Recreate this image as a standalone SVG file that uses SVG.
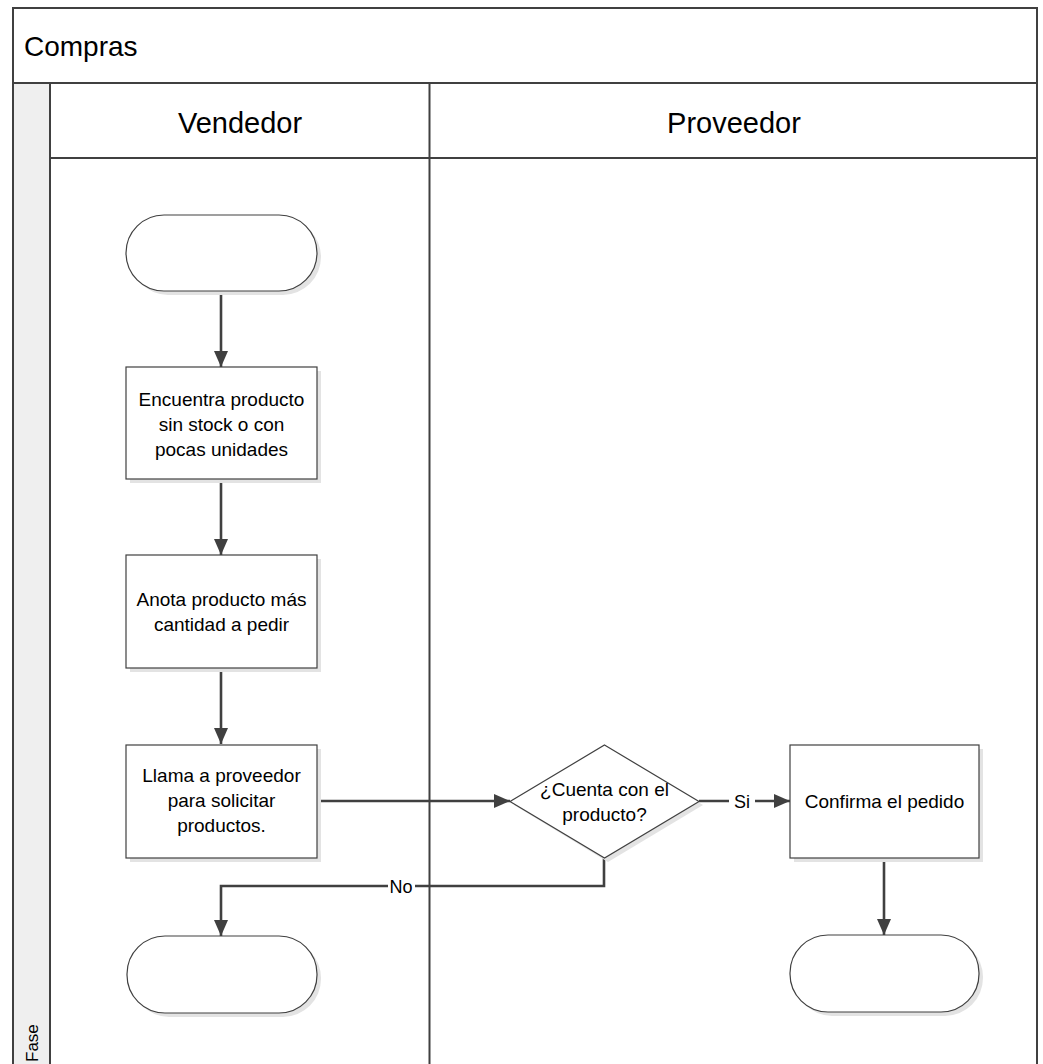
<svg xmlns="http://www.w3.org/2000/svg" width="1043" height="1064" viewBox="0 0 1043 1064">
  <defs>
    <style>
      .frame { fill: none; stroke: #404040; stroke-width: 2; }
      .shape { fill: #ffffff; stroke: #404040; stroke-width: 1.2; }
      .shadow { fill: #e3e3e3; stroke: none; }
      .txt { font-family: "Liberation Sans", Arial, sans-serif; font-size: 19px; fill: #000000; text-anchor: middle; }
      .lane { font-family: "Liberation Sans", Arial, sans-serif; font-size: 29px; fill: #000000; text-anchor: middle; }
      .edge { fill: none; stroke: #404040; stroke-width: 2.6; }
      .lbl { font-family: "Liberation Sans", Arial, sans-serif; font-size: 18px; fill: #000000; text-anchor: middle; }
    </style>
    <marker id="arrow" viewBox="0 0 16 14" refX="16" refY="7" markerWidth="16" markerHeight="14" markerUnits="userSpaceOnUse" orient="auto">
      <path d="M0,0 L16,7 L0,14 z" fill="#404040"/>
    </marker>
  </defs>

  <rect x="0" y="0" width="1043" height="1064" fill="#ffffff"/>

  <!-- Pool and lanes -->
  <g id="pool">
    <rect x="13" y="84" width="37" height="990" fill="#efefef"/>
    <path class="frame" d="M13,1064 V8 H1037 V1064"/>
    <line class="frame" x1="13" y1="83" x2="1037" y2="83"/>
    <line class="frame" x1="50" y1="83" x2="50" y2="1064"/>
    <line class="frame" x1="50" y1="158" x2="1037" y2="158"/>
    <line class="frame" x1="429.5" y1="83" x2="429.5" y2="1064"/>
    <text x="24" y="56" font-family="Liberation Sans, Arial, sans-serif" font-size="28" fill="#000000">Compras</text>
    <text class="lane" x="240" y="133">Vendedor</text>
    <text class="lane" x="734" y="133">Proveedor</text>
    <text x="38" y="1062" transform="rotate(-90 38 1062)" font-family="Liberation Sans, Arial, sans-serif" font-size="17" fill="#000000">Fase</text>
  </g>

  <!-- Connectors -->
  <g id="connectors">
    <line class="edge" x1="221" y1="291" x2="221" y2="367" marker-end="url(#arrow)"/>
    <line class="edge" x1="221" y1="479" x2="221" y2="555" marker-end="url(#arrow)"/>
    <line class="edge" x1="221" y1="668" x2="221" y2="744" marker-end="url(#arrow)"/>
    <line class="edge" x1="317" y1="801" x2="510" y2="801" marker-end="url(#arrow)"/>
    <line class="edge" x1="699" y1="801" x2="790" y2="801" marker-end="url(#arrow)"/>
    <path class="edge" d="M604,858 V886 H221 V936" marker-end="url(#arrow)"/>
    <line class="edge" x1="884" y1="858" x2="884" y2="935" marker-end="url(#arrow)"/>
    <rect x="729" y="790" width="26" height="22" fill="#ffffff"/>
    <text class="lbl" x="742" y="808">Si</text>
    <rect x="388" y="875" width="27" height="22" fill="#ffffff"/>
    <text class="lbl" x="401" y="893">No</text>
  </g>

  <!-- Start -->
  <g id="start">
    <rect class="shadow" x="130" y="219" width="191" height="76" rx="38"/>
    <rect class="shape" x="126" y="215" width="191" height="76" rx="38"/>
  </g>

  <g id="encuentra">
    <rect class="shadow" x="130" y="371" width="191" height="112"/>
    <rect class="shape" x="126" y="367" width="191" height="112"/>
    <text class="txt" x="221.5" y="406">Encuentra producto</text>
    <text class="txt" x="221.5" y="431">sin stock o con</text>
    <text class="txt" x="221.5" y="456">pocas unidades</text>
  </g>

  <g id="anota">
    <rect class="shadow" x="130" y="559" width="191" height="113"/>
    <rect class="shape" x="126" y="555" width="191" height="113"/>
    <text class="txt" x="221.5" y="606">Anota producto más</text>
    <text class="txt" x="221.5" y="631">cantidad a pedir</text>
  </g>

  <g id="llama">
    <rect class="shadow" x="130" y="749" width="191" height="113"/>
    <rect class="shape" x="126" y="745" width="191" height="113"/>
    <text class="txt" x="221.5" y="782">Llama a proveedor</text>
    <text class="txt" x="221.5" y="807">para solicitar</text>
    <text class="txt" x="221.5" y="832">productos.</text>
  </g>

  <g id="decision">
    <polygon class="shadow" points="608,749 703,805 608,862 514,805"/>
    <polygon class="shape" points="604.5,745 699,801.5 604.5,858 510,801.5"/>
    <text class="txt" x="604.5" y="796">¿Cuenta con el</text>
    <text class="txt" x="604.5" y="821">producto?</text>
  </g>

  <g id="confirma">
    <rect class="shadow" x="794" y="749" width="189" height="113"/>
    <rect class="shape" x="790" y="745" width="189" height="113"/>
    <text class="txt" x="884.5" y="808">Confirma el pedido</text>
  </g>

  <g id="end-no">
    <rect class="shadow" x="131" y="940" width="190" height="77" rx="38"/>
    <rect class="shape" x="127" y="936" width="190" height="77" rx="38"/>
  </g>

  <g id="end-si">
    <rect class="shadow" x="794" y="939" width="189" height="77" rx="38"/>
    <rect class="shape" x="790" y="935" width="189" height="77" rx="38"/>
  </g>
</svg>
